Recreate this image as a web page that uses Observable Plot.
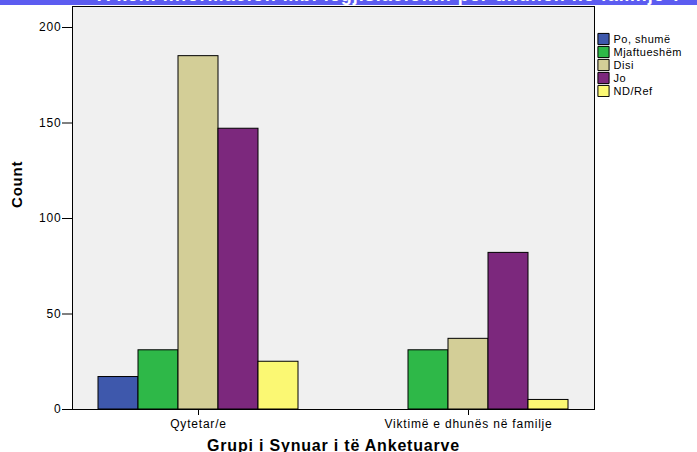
<!DOCTYPE html>
<html><head><meta charset="utf-8">
<script src="https://cdn.jsdelivr.net/npm/d3@7"></script>
<script src="https://cdn.jsdelivr.net/npm/@observablehq/plot@0.6"></script>
<style>
html,body{margin:0;padding:0;background:#fff;}
#wrap{position:relative;width:697px;height:452px;overflow:hidden;font-family:"Liberation Sans",Arial,sans-serif;}
#title{position:absolute;left:0;top:0;width:697px;height:5px;background:#5c5cf0;overflow:hidden;z-index:2;}
#title span{position:absolute;left:0;width:780px;top:-14px;text-align:center;color:#fff;font:bold 18px/18px "Liberation Sans",Arial,sans-serif;letter-spacing:1px;white-space:nowrap;}
#chart{position:absolute;left:0;top:0;}
#legend{position:absolute;left:596px;top:31px;}
svg text{letter-spacing:0.8px;}
g[aria-label="xlabel"] text{letter-spacing:1.5px;}
g[aria-label="ylabel"] text{letter-spacing:0px;}
#legend svg text{letter-spacing:0.5px;}
</style></head><body>
<div id="wrap"><div id="chart"></div><div id="legend"></div><div id="title"><span id="titletext"></span></div></div>
<script>
const titleText = "A keni informacion mbi legjislacionin për dhunën në familje ?";
const groups = ["Qytetar/e", "Viktimë e dhunës në familje"];
const answers = ["Po, shumë", "Mjaftueshëm", "Disi", "Jo", "ND/Ref"];
const countsQytetar = [17, 31, 185, 147, 25];
const countsViktime = [0, 31, 37, 82, 5];
const colors = ["#3e58ac", "#2eb848", "#d3ce97", "#7c287d", "#fbf873"];
const yTicks = [0, 50, 100, 150, 200];
const xLabel = "Grupi i Synuar i të Anketuarve";
const yLabel = "Count";

document.getElementById("titletext").textContent = titleText;

const rows = [];
answers.forEach((a, i) => {
  rows.push({group: groups[0], answer: a, count: countsQytetar[i]});
  rows.push({group: groups[1], answer: a, count: countsViktime[i]});
});

const barMarks = answers.map((a, i) =>
  Plot.barY(rows.filter(d => d.answer === a && d.count > 0), {
    x: "group", y: "count", fill: "answer", stroke: "black", strokeWidth: 1,
    dx: (i - 2) * 40
  })
);

const chart = Plot.plot({
  width: 697, height: 452,
  marginLeft: 72, marginRight: 103, marginTop: 6, marginBottom: 43,
  style: {fontFamily: "Liberation Sans, Arial, sans-serif", fontSize: "12px", color: "black", background: "transparent"},
  x: {domain: groups, paddingInner: 0.8524, paddingOuter: 0.3893, align: 0.5, axis: null},
  y: {domain: [0, 211], axis: null},
  color: {domain: answers, range: colors},
  marks: [
    Plot.frame({fill: "#f0f0f0", stroke: "black"}),
    ...barMarks,
    Plot.axisY({ticks: yTicks, tickSize: 10, tickPadding: 1, fontSize: 12, label: null}),
    Plot.axisX({tickSize: 6, tickPadding: 4, fontSize: 12, label: null}),
    Plot.text([xLabel], {text: d => d, frameAnchor: "bottom", dy: 41, fontSize: 16, fontWeight: "bold", ariaLabel: "xlabel"}),
    Plot.text([yLabel], {text: d => d, frameAnchor: "left", rotate: -90, dx: -55, fontSize: 15, fontWeight: "bold", ariaLabel: "ylabel"})
  ]
});
document.getElementById("chart").appendChild(chart);

const legend = Plot.plot({
  width: 101, height: 66, margin: 0,
  style: {fontFamily: "Liberation Sans, Arial, sans-serif", fontSize: "11px", color: "black", background: "transparent"},
  y: {type: "band", domain: answers, padding: 0, axis: null},
  color: {domain: answers, range: colors},
  marks: [
    Plot.dot(answers, {y: d => d, fill: d => d, symbol: "square", r: 6.3, stroke: "black", strokeWidth: 1, frameAnchor: "left", dx: 7}),
    Plot.text(answers, {y: d => d, text: d => d, frameAnchor: "left", dx: 17, textAnchor: "start", fontSize: 11})
  ]
});
document.getElementById("legend").appendChild(legend);
</script>
</body></html>
